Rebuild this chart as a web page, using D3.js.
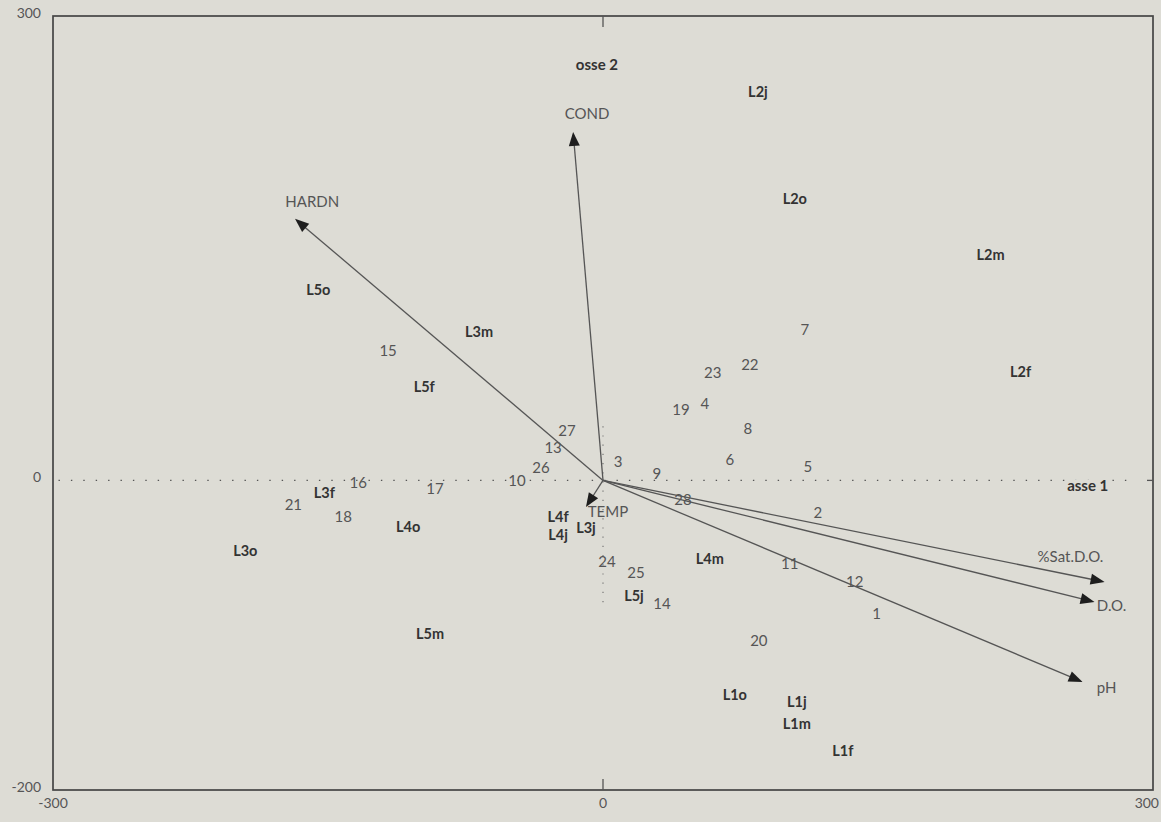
<!DOCTYPE html>
<html><head><meta charset="utf-8">
<script src="https://cdn.jsdelivr.net/npm/d3@7"></script>
<style>
html,body{margin:0;padding:0;background:#dddcd5;}
svg{display:block;font-family:Lato,"Open Sans",sans-serif;}
</style></head><body>
<svg id="chart" width="1161" height="822"></svg>
<script>
// Site scores (lake + season) on the first two axes
const sites = [
  {id:"L2j", x:84.5,  y:251.3}, {id:"L2o", x:104.6, y:182.2},
  {id:"L2m", x:211.4, y:146.0}, {id:"L2f", x:227.8, y:70.4},
  {id:"L5o", x:-155.3,y:123.4}, {id:"L3m", x:-67.6, y:96.3},
  {id:"L5f", x:-97.5, y:60.7},  {id:"L3f", x:-152.0,y:-7.8},
  {id:"L4o", x:-106.3,y:-29.7}, {id:"L3o", x:-195.1,y:-45.2},
  {id:"L4f", x:-24.5, y:-23.3}, {id:"L4j", x:-24.5, y:-34.9},
  {id:"L3j", x:-9.3,  y:-30.4}, {id:"L4m", x:58.3,  y:-50.4},
  {id:"L5j", x:16.9,  y:-74.3}, {id:"L5m", x:-94.3, y:-98.8},
  {id:"L1o", x:71.9,  y:-138.2},{id:"L1j", x:105.7, y:-142.8},
  {id:"L1m", x:105.7, y:-157.0},{id:"L1f", x:130.8, y:-174.4}
];

// Species scores (numbered taxa)
const species = [
  {id:"1", x:149.3, y:-85.9}, {id:"2", x:117.2, y:-20.7},
  {id:"3", x:8.2,   y:12.3},  {id:"4", x:55.6,  y:49.7},
  {id:"5", x:111.7, y:9.0},   {id:"6", x:69.2,  y:13.6},
  {id:"7", x:110.1, y:97.5},  {id:"8", x:79.0,  y:33.6},
  {id:"9", x:29.4,  y:4.5},   {id:"10", x:-46.9, y:0.0},
  {id:"11", x:101.9, y:-53.6},{id:"12", x:137.3, y:-65.2},
  {id:"13", x:-27.2, y:21.3}, {id:"14", x:32.2,  y:-79.5},
  {id:"15", x:-117.2,y:84.0}, {id:"16", x:-133.5,y:-1.3},
  {id:"17", x:-91.6, y:-5.2}, {id:"18", x:-141.7,y:-23.3},
  {id:"19", x:42.5,  y:45.9}, {id:"20", x:85.0,  y:-103.4},
  {id:"21", x:-168.9,y:-15.5},{id:"22", x:80.1,  y:74.9},
  {id:"23", x:59.9,  y:69.8}, {id:"24", x:2.2,   y:-52.3},
  {id:"25", x:18.0,  y:-59.4},{id:"26", x:-33.8, y:8.4},
  {id:"27", x:-19.6, y:32.3}, {id:"28", x:43.6,  y:-12.3}
];

// Environmental variables: arrow tips and label anchors
const variables = [
  {name:"HARDN",     x:-168.0, y:169.0, lx:-158.6, ly:180.2},
  {name:"COND",      x:-16.3,  y:225.1, lx:-8.7,   ly:237.1},
  {name:"TEMP",      x:-9.3,   y:-17.2, lx:2.7,    ly:-20.0},
  {name:"%Sat.D.O.", x:273.6,  y:-65.6, lx:255.0,  ly:-49.1},
  {name:"D.O.",      x:268.1,  y:-78.5, lx:277.4,  ly:-80.7},
  {name:"pH",        x:261.6,  y:-130.2,lx:274.7,  ly:-133.7}
];

const axisNames = [
  {name:"osse 2", x:-3.3, y:269.3},
  {name:"asse 1", x:264.4, y:-3.0}
];

const xTicks = [-300, 0, 300];
const yTicks = [300, 0, -200];

const svg = d3.select("#chart");
const x = d3.scaleLinear().domain([-300, 300]).range([53, 1153]);
const y = d3.scaleLinear().domain([-200, 300]).range([790, 16]);

// frame
svg.append("rect")
  .attr("x", x(-300)).attr("y", y(300))
  .attr("width", x(300) - x(-300)).attr("height", y(-200) - y(300))
  .attr("fill", "none").attr("stroke", "#454545").attr("stroke-width", 1.7);

// axes through the origin (dotted)
svg.append("line")
  .attr("x1", x(-297)).attr("x2", x(290))
  .attr("y1", y(0)).attr("y2", y(0))
  .attr("stroke", "#555").attr("stroke-width", 1.4)
  .attr("stroke-dasharray", "1.4,11");
svg.append("line")
  .attr("x1", x(0)).attr("x2", x(0))
  .attr("y1", y(35)).attr("y2", y(-80))
  .attr("stroke", "#777").attr("stroke-width", 1.2)
  .attr("stroke-dasharray", "1.2,8");

// small ticks on the frame at the origin
svg.append("line").attr("x1", x(0)).attr("x2", x(0))
  .attr("y1", y(300)).attr("y2", y(300) + 11)
  .attr("stroke", "#555").attr("stroke-width", 1.3);
svg.append("line").attr("x1", x(0)).attr("x2", x(0))
  .attr("y1", y(-200)).attr("y2", y(-200) - 11)
  .attr("stroke", "#555").attr("stroke-width", 1.3);
svg.append("line").attr("x1", x(300)).attr("x2", x(300) - 6)
  .attr("y1", y(0)).attr("y2", y(0))
  .attr("stroke", "#555").attr("stroke-width", 1.3);

// tick labels
const fmt = d => d < 0 ? "-" + Math.abs(d) : String(d);
svg.append("g").selectAll("text").data(xTicks).join("text")
  .attr("x", d => d === 300 ? x(d) + 6 : x(d)).attr("y", y(-200) + 18)
  .attr("text-anchor", d => d === 300 ? "end" : "middle")
  .attr("font-size", 14).attr("fill", "#555")
  .text(fmt);
svg.append("g").selectAll("text").data(yTicks).join("text")
  .attr("x", x(-300) - 12).attr("y", d => y(d) + 2)
  .attr("text-anchor", "end").attr("font-size", 14).attr("fill", "#555")
  .text(fmt);

// axis names
svg.append("g").selectAll("text").data(axisNames).join("text")
  .attr("x", d => x(d.x)).attr("y", d => y(d.y))
  .attr("text-anchor", "middle").attr("dominant-baseline", "central")
  .attr("font-size", 15).attr("font-weight", 700).attr("fill", "#333")
  .attr("stroke", "#dddcd5").attr("stroke-width", 8).attr("paint-order", "stroke")
  .text(d => d.name);

// variable arrows
const head = 14, half = 5.5;
const arrows = svg.append("g");
variables.forEach(v => {
  const x0 = x(0), y0 = y(0), x1 = x(v.x), y1 = y(v.y);
  const ang = Math.atan2(y1 - y0, x1 - x0);
  arrows.append("line")
    .attr("x1", x0).attr("y1", y0)
    .attr("x2", x1 - Math.cos(ang) * head * 0.7).attr("y2", y1 - Math.sin(ang) * head * 0.7)
    .attr("stroke", "#555").attr("stroke-width", 1.3);
  arrows.append("path")
    .attr("d", `M0,0L${-head},${-half}L${-head},${half}Z`)
    .attr("transform", `translate(${x1},${y1}) rotate(${ang * 180 / Math.PI})`)
    .attr("fill", "#1e1e1e");
});
svg.append("g").selectAll("text").data(variables).join("text")
  .attr("x", d => x(d.lx)).attr("y", d => y(d.ly))
  .attr("text-anchor", "middle").attr("dominant-baseline", "central")
  .attr("font-size", 15).attr("font-weight", 400).attr("fill", "#555")
  .text(d => d.name);

// species numbers
svg.append("g").selectAll("text").data(species).join("text")
  .attr("x", d => x(d.x)).attr("y", d => y(d.y))
  .attr("text-anchor", "middle").attr("dominant-baseline", "central")
  .attr("font-size", 15).attr("fill", "#555")
  .text(d => d.id);

// site labels
svg.append("g").selectAll("text").data(sites).join("text")
  .attr("x", d => x(d.x)).attr("y", d => y(d.y))
  .attr("text-anchor", "middle").attr("dominant-baseline", "central")
  .attr("font-size", 14.5).attr("font-weight", 700).attr("fill", "#333")
  .text(d => d.id);
</script></body></html>
